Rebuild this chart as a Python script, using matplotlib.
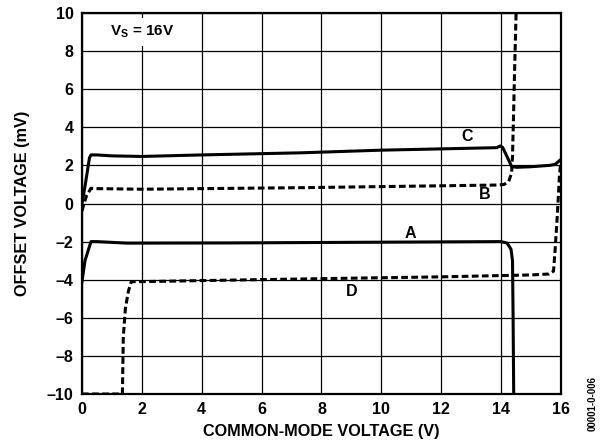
import numpy as np
import matplotlib
matplotlib.use("Agg")
import matplotlib.pyplot as plt
from matplotlib.ticker import FuncFormatter

plt.rcParams['font.family'] = ['Liberation Sans', 'DejaVu Sans']
plt.rcParams['font.weight'] = 'bold'
plt.rcParams['mathtext.fontset'] = 'custom'
plt.rcParams['mathtext.rm'] = 'Liberation Sans:bold'
plt.rcParams['mathtext.bf'] = 'Liberation Sans:bold'

# curve A (solid)
a_x = [0, 0.1, 0.3, 0.5, 1.5, 5, 10, 14.0, 14.2, 14.33, 14.38, 14.4, 14.42]
a_y = [-4.1, -3.0, -2.0, -2.0, -2.08, -2.07, -2.03, -2.0, -2.08, -2.4, -3.0, -6.0, -10.0]

# curve B (dashed)
b_x = [0, 0.05, 0.15, 0.3, 0.5, 2, 7.3, 13.9, 14.1, 14.25, 14.35, 14.38, 14.41, 14.45, 14.5]
b_y = [-0.4, -0.1, 0.4, 0.8, 0.78, 0.75, 0.83, 0.97, 1.0, 1.15, 1.6, 2.5, 4.3, 7.0, 10.0]

# curve C (solid)
c_x = [0, 0.1, 0.25, 0.3, 0.5, 1, 2, 4, 7.3, 10, 13.85, 13.97, 14.05, 14.2, 14.35, 14.5,
       15, 15.6, 15.8, 16]
c_y = [0.0, 0.9, 2.4, 2.55, 2.55, 2.5, 2.47, 2.55, 2.66, 2.8, 2.93, 3.02, 2.95, 2.45, 1.95,
       1.9, 1.93, 2.0, 2.05, 2.32]

# curve D (dashed)
d_x = [0, 1.35, 1.38, 1.45, 1.55, 1.65, 2, 5, 9, 12, 15, 15.6, 15.75, 15.8, 15.87, 15.95, 16]
d_y = [-10, -10, -7.0, -5.5, -4.6, -4.1, -4.1, -4.02, -3.92, -3.85, -3.75, -3.7, -3.55,
       -2.5, -0.8, 1.5, 2.3]

curve_labels = ['A', 'B', 'C', 'D']
label_x = [10.96, 13.46, 12.85, 9.01]
label_y = [-1.57, 0.45, 3.5, -4.62]

fig = plt.figure(figsize=(6.02, 4.48), dpi=100)
ax = fig.add_axes([0.1362, 0.1205, 0.7957, 0.8505])

lw = 2.2
ax.plot(a_x, a_y, color='black', lw=lw, solid_joinstyle='round', zorder=3)
ax.plot(b_x, b_y, color='black', lw=lw, linestyle=(0, (2.2, 1.1)), zorder=3)
ax.plot(c_x, c_y, color='black', lw=lw, solid_joinstyle='round', zorder=3)
ax.plot(d_x, d_y, color='black', lw=lw, linestyle=(0, (2.2, 1.1)), zorder=3)

for lab, lx, ly in zip(curve_labels, label_x, label_y):
    ax.text(lx, ly, lab, fontsize=11.5, fontweight='bold', ha='center', va='center')

ax.text(0.95, 9.0, r'$\mathbf{V_S}$ = 16V', fontsize=11, fontweight='bold',
        ha='left', va='center', zorder=4,
        bbox=dict(facecolor='white', edgecolor='none', pad=4))

ax.set_xlim(0, 16)
ax.set_ylim(-10, 10)
ax.set_xticks(np.arange(0, 17, 2))
ax.set_yticks(np.arange(-10, 11, 2))
ax.yaxis.set_major_formatter(FuncFormatter(lambda v, p: f"{int(v)}".replace('-', '\u2013')))
ax.tick_params(length=0, labelsize=11.5, pad=6)
for lbl in ax.get_xticklabels() + ax.get_yticklabels():
    lbl.set_fontweight('bold')
ax.grid(True, color='black', lw=0.9)
ax.set_axisbelow(True)
for s in ax.spines.values():
    s.set_linewidth(1.6)

ax.set_xlabel('COMMON-MODE VOLTAGE (V)', fontsize=11.7, fontweight='bold', labelpad=5)
ax.set_ylabel('OFFSET VOLTAGE (mV)', fontsize=11.7, fontweight='bold', labelpad=12)

fig.text(0.985, 0.10, '00001-0-006', rotation=90, fontsize=7, fontweight='bold',
         ha='center', va='center')

fig.savefig('out.png', dpi=100)
